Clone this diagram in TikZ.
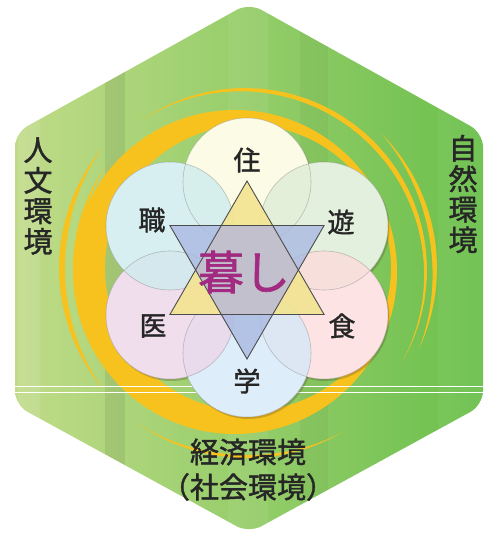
\documentclass[tikz,border=0pt]{standalone}
\usepackage{fontspec}
\setmainfont{Noto Sans CJK JP}
\newfontfamily\heavyfont{Noto Sans CJK JP}[FakeBold=1.4]

\definecolor{bgleft}{HTML}{C3DC8A}
\definecolor{bgmid}{HTML}{9DCC69}
\definecolor{bgright}{HTML}{69BF4B}
\definecolor{swirl}{HTML}{F8C21E}
\definecolor{ink}{HTML}{262626}
\definecolor{kurashi}{HTML}{A22A80}
\definecolor{pJu}{HTML}{FCFADF}
\definecolor{pAso}{HTML}{DDEDD5}
\definecolor{pShoku}{HTML}{FDDCDC}
\definecolor{pGaku}{HTML}{D5E9F8}
\definecolor{pI}{HTML}{EDD6E9}
\definecolor{pShoku2}{HTML}{CDEBEE}
\definecolor{triup}{HTML}{F3E490}
\definecolor{tridown}{HTML}{A9B9E2}
\definecolor{trimid}{HTML}{C3C0CC}

% outline of the hexagon, in pixel units (y runs downwards)
\def\hexpath{(249,3) -- (483,133) -- (483,405) -- (249,533) -- (15,405) -- (15,133) -- cycle}

% tapered yellow stroke: centre x, centre y, radius, from angle, to angle, width
\newcommand{\swoosh}[6]{%
  \fill[swirl] plot[domain=#4:#5, samples=40, variable=\t]
      ({#1+#3*cos(\t)},{#2+#3*sin(\t)})
    -- plot[domain=#5:#4, samples=40, variable=\t]
      ({#1+(#3-#6*sin(180/(#5-#4)*(\t-#4)))*cos(\t)},
       {#2+(#3-#6*sin(180/(#5-#4)*(\t-#4)))*sin(\t)})
    -- cycle;}

\tikzset{
  petal/.style={circle, minimum size=128pt, inner sep=0pt, fill opacity=0.8},
  petaledge/.style={draw=black!55, draw opacity=0.4, line width=0.6pt},
  petalshadow/.style={fill=black!60!brown, opacity=0.25},
  trianglebox/.style={draw=black!70, line width=0.9pt, line join=miter},
  sign/.style={inner sep=0pt, text=ink, font=\heavyfont\fontsize{27}{27}\selectfont},
  envlabel/.style={inner sep=0pt, text=ink, align=center,
    font=\heavyfont\fontsize{29}{30.5}\selectfont},
}

\begin{document}
\begin{tikzpicture}[x=1pt, y=-1pt]
\useasboundingbox (0,0) rectangle (493,533);

% green hexagon with vertical bands
\begin{scope}
  \clip[rounded corners=14pt] \hexpath;
  \shade[left color=bgleft, middle color=bgmid, right color=bgright]
    (0,0) rectangle (493,533);
  \foreach \x/\w/\c/\o in {18/22/white/0.10, 105/20/black/0.07,
      228/40/white/0.06, 300/28/black/0.03, 438/45/white/0.05}
    \fill[\c, opacity=\o] (\x,0) rectangle ++(\w,533);

  % yellow swirl round the flower
  \fill[swirl, even odd rule] (235,272) circle[radius=162]
    (248,268) circle[radius=143];
  \swoosh{245}{270}{182}{235}{390}{5}
  \swoosh{247}{268}{190}{-45}{25}{5}
  \swoosh{247}{268}{188}{140}{220}{6}
  \swoosh{247}{268}{174}{150}{215}{4}
  \swoosh{247}{268}{190}{60}{125}{3}

  \draw[white, line width=1pt] (0,386) -- (493,386) (0,392) -- (493,392);
\end{scope}

% six petals on a white ground
\foreach \x/\y in {247/182, 324/226, 324/315, 247/353, 170/315, 170/226}
  \fill[petalshadow] (\x+1.5,\y+2) circle[radius=64];
\foreach \x/\y in {247/182, 324/226, 324/315, 247/353, 170/315, 170/226}
  \fill[white] (\x,\y) circle[radius=64];
\foreach \name/\x/\y/\col in {ju/247/182/pJu, aso/324/226/pAso,
    shoku/324/315/pShoku, gaku/247/353/pGaku, i/170/315/pI,
    work/170/226/pShoku2}
  \node[petal, fill=\col] (\name) at (\x,\y) {};
\foreach \name in {ju, aso, shoku, gaku, i, work}
  \draw[petaledge] (\name.center) circle[radius=64];

% hexagram
\coordinate (up1) at (247,181);
\coordinate (up2) at (324.1,314.5);
\coordinate (up3) at (169.9,314.5);
\coordinate (dn1) at (247,359);
\coordinate (dn2) at (169.9,225.5);
\coordinate (dn3) at (324.1,225.5);
\fill[triup, opacity=0.9] (up1) -- (up2) -- (up3) -- cycle;
\fill[tridown, opacity=0.8] (dn1) -- (dn2) -- (dn3) -- cycle;
\fill[trimid, opacity=0.95] (298.4,270) -- (272.7,314.5) -- (221.3,314.5)
  -- (195.6,270) -- (221.3,225.5) -- (272.7,225.5) -- cycle;
\draw[trianglebox] (up1) -- (up2) -- (up3) -- cycle;
\draw[trianglebox] (dn1) -- (dn2) -- (dn3) -- cycle;

% labels
\node[sign] (l-ju) at (247,160) {住};
\node[sign] (l-aso) at (341,222) {遊};
\node[sign] (l-shoku) at (342,326) {食};
\node[sign] (l-gaku) at (247,381) {学};
\node[sign] (l-i) at (153,326) {医};
\node[sign] (l-work) at (152,220) {職};
\node[inner sep=0pt, text=kurashi, font=\heavyfont\fontsize{46}{46}\selectfont]
  (center) at (244,272) {暮し};

\node[envlabel] (human) at (38,196) {人\\文\\環\\境};
\node[envlabel] (nature) at (463,194) {自\\然\\環\\境};
\node[envlabel] (economy) at (248,452) {経済環境};
\node[envlabel] (society) at (248,487) {（社会環境）};
\end{tikzpicture}
\end{document}
